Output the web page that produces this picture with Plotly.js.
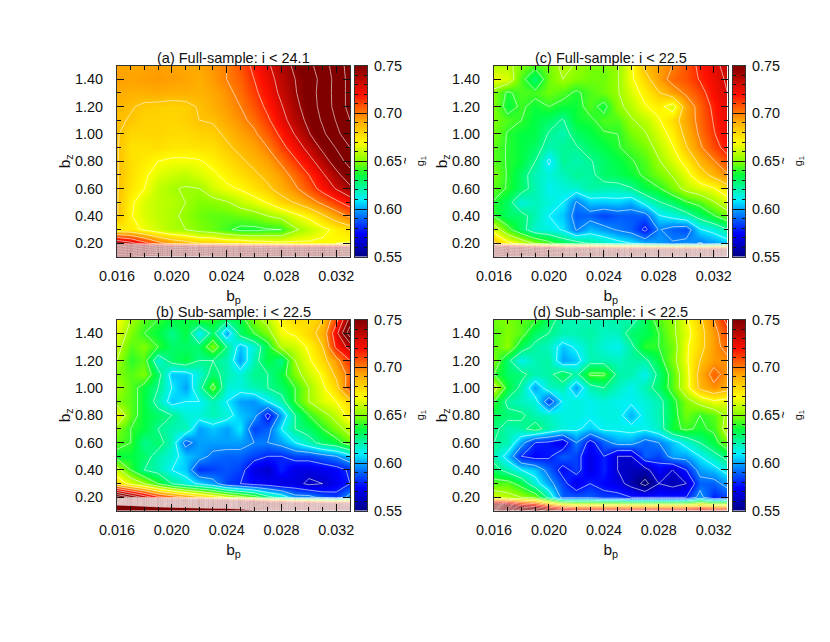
<!DOCTYPE html>
<html>
<head>
<meta charset="utf-8">
<script src="https://cdn.plot.ly/plotly-3.0.1.min.js"></script>
<style>body{margin:0;background:#fff}</style>
</head>
<body>
<div id="grafico" style="width:830px;height:642px"></div>
<script>
var bp = [0.016,0.017,0.018,0.019,0.020,0.021,0.022,0.023,0.024,0.025,0.026,0.027,0.028,0.029,0.030,0.031,0.032,0.033];
// rows are written from the top of the panel (1.5) down to the bottom (0.1)
var bz = [1.5,1.4,1.3,1.2,1.1,1.0,0.9,0.8,0.7,0.6,0.5,0.4,0.3,0.2,0.1];
var nivelBarra = [0.55,0.56,0.57,0.58,0.59,0.60,0.61,0.62,0.63,0.64,0.65,0.66,0.67,0.68,0.69,0.70,0.71,0.72,0.73,0.74,0.75];

var painelA = [
[.693,.692,.693,.694,.693,.692,.692,.696,.700,.708,.718,.728,.738,.748,.756,.768,.782,.796],
[.694,.693,.694,.695,.694,.693,.690,.695,.700,.705,.715,.725,.735,.745,.752,.765,.780,.795],
[.691,.690,.690,.691,.690,.690,.689,.692,.697,.703,.712,.722,.733,.744,.753,.766,.780,.795],
[.688,.686,.683,.682,.681,.682,.686,.690,.695,.700,.708,.718,.729,.741,.752,.765,.780,.795],
[.687,.684,.681,.681,.680,.682,.685,.686,.692,.697,.703,.713,.725,.737,.749,.762,.776,.790],
[.686,.680,.680,.680,.679,.679,.681,.682,.687,.693,.698,.707,.718,.731,.744,.757,.771,.785],
[.686,.677,.677,.678,.676,.676,.677,.678,.683,.688,.693,.700,.711,.722,.735,.748,.761,.775],
[.686,.678,.675,.670,.668,.668,.669,.673,.678,.683,.688,.694,.702,.713,.725,.738,.752,.766],
[.686,.678,.672,.665,.662,.660,.664,.668,.673,.678,.683,.688,.695,.704,.715,.728,.741,.754],
[.686,.676,.670,.660,.656,.654,.655,.663,.668,.671,.677,.683,.690,.698,.708,.720,.731,.742],
[.686,.672,.664,.660,.658,.655,.650,.651,.654,.660,.665,.671,.680,.686,.694,.703,.712,.722],
[.686,.671,.664,.660,.657,.653,.648,.646,.646,.648,.650,.655,.659,.667,.673,.683,.693,.702],
[.674,.674,.668,.662,.657,.655,.650,.647,.642,.637,.637,.639,.640,.653,.660,.667,.673,.678],
[.745,.735,.720,.705,.695,.690,.685,.685,.680,.680,.677,.675,.673,.673,.672,.672,.670,.669],
[1.02,1.02,1.01,1.01,1.01,1.01,1.01,1.00,1.00,1.00,1.00,1.00,.995,.995,.995,.995,.995,.995]
];
var painelC = [
[.658,.658,.650,.644,.648,.658,.654,.649,.648,.654,.668,.688,.694,.700,.708,.718,.726,.735],
[.668,.664,.644,.628,.648,.655,.650,.648,.648,.654,.668,.680,.694,.704,.708,.716,.724,.732],
[.650,.638,.644,.643,.648,.644,.638,.644,.648,.654,.664,.674,.684,.694,.702,.710,.722,.730],
[.650,.635,.642,.636,.640,.636,.636,.644,.636,.652,.659,.669,.674,.664,.692,.705,.718,.728],
[.649,.644,.640,.634,.630,.624,.636,.638,.644,.644,.654,.659,.669,.679,.692,.704,.716,.727],
[.649,.639,.635,.634,.624,.620,.630,.634,.639,.640,.649,.654,.664,.674,.689,.702,.714,.725],
[.645,.639,.635,.630,.620,.624,.624,.630,.634,.639,.644,.649,.659,.669,.684,.698,.710,.720],
[.645,.639,.635,.625,.608,.624,.620,.624,.630,.634,.639,.644,.654,.664,.674,.689,.699,.710],
[.649,.639,.630,.619,.615,.619,.624,.622,.630,.632,.636,.642,.649,.656,.666,.679,.689,.699],
[.645,.639,.630,.620,.612,.615,.616,.622,.620,.620,.624,.634,.639,.649,.659,.664,.669,.679],
[.639,.630,.614,.619,.615,.610,.594,.605,.605,.606,.602,.614,.624,.630,.639,.644,.654,.664],
[.639,.630,.629,.620,.610,.605,.590,.590,.585,.589,.589,.590,.609,.614,.620,.630,.639,.649],
[.664,.644,.630,.616,.614,.609,.594,.604,.599,.594,.590,.577,.596,.590,.587,.609,.614,.624],
[.688,.674,.664,.654,.644,.634,.630,.624,.620,.614,.610,.604,.600,.596,.599,.594,.599,.604],
[1.02,1.01,1.01,1.00,1.00,1.00,1.00,1.00,1.00,1.00,1.00,1.00,1.00,1.00,1.00,1.00,1.00,1.00]
];
var painelB = [
[.670,.655,.645,.640,.635,.635,.640,.640,.630,.635,.650,.660,.672,.680,.678,.685,.710,.750],
[.665,.650,.640,.635,.625,.635,.610,.630,.600,.630,.640,.650,.668,.672,.680,.690,.725,.770],
[.660,.645,.650,.640,.630,.630,.630,.650,.625,.605,.615,.635,.658,.662,.672,.685,.718,.735],
[.655,.640,.645,.615,.630,.635,.625,.625,.620,.600,.620,.635,.625,.655,.668,.680,.695,.715],
[.650,.645,.650,.630,.605,.605,.615,.630,.620,.615,.625,.625,.635,.650,.662,.672,.688,.705],
[.655,.645,.635,.625,.610,.600,.620,.645,.615,.615,.620,.625,.630,.640,.655,.668,.680,.710],
[.650,.645,.635,.620,.605,.610,.610,.620,.610,.600,.598,.610,.620,.640,.655,.665,.670,.680],
[.670,.645,.635,.630,.625,.615,.615,.620,.615,.605,.600,.575,.600,.625,.640,.650,.660,.675],
[.650,.640,.635,.625,.620,.620,.600,.605,.600,.610,.585,.590,.610,.625,.630,.640,.650,.660],
[.645,.640,.625,.630,.618,.590,.600,.600,.600,.600,.595,.595,.600,.610,.620,.630,.635,.648],
[.635,.635,.630,.620,.615,.605,.600,.592,.590,.590,.585,.580,.580,.585,.585,.590,.595,.605],
[.660,.640,.625,.620,.610,.605,.582,.585,.588,.585,.570,.565,.580,.570,.570,.572,.575,.582],
[.680,.665,.655,.640,.625,.615,.608,.600,.585,.580,.575,.573,.568,.570,.562,.565,.572,.580],
[.780,.760,.740,.720,.710,.700,.690,.680,.670,.660,.650,.630,.620,.600,.600,.590,.585,.600],
[1.17,1.16,1.14,1.12,1.11,1.10,1.09,1.08,1.08,1.06,1.02,1.01,1.01,1.01,1.00,.995,.99,.99]
];
var painelD = [
[.648,.650,.645,.642,.630,.620,.620,.620,.620,.622,.620,.632,.645,.652,.668,.682,.700,.720],
[.645,.650,.645,.630,.625,.620,.620,.622,.618,.618,.630,.632,.640,.652,.665,.680,.695,.710],
[.645,.652,.632,.622,.618,.605,.612,.620,.615,.612,.622,.640,.640,.648,.668,.680,.695,.705],
[.650,.628,.612,.620,.622,.600,.605,.620,.620,.618,.622,.622,.635,.650,.668,.685,.695,.697],
[.640,.630,.628,.620,.622,.632,.622,.642,.642,.622,.620,.612,.628,.645,.665,.690,.705,.695],
[.662,.635,.622,.600,.618,.620,.600,.620,.625,.618,.612,.620,.630,.645,.665,.688,.697,.690],
[.640,.622,.618,.615,.585,.612,.615,.612,.615,.612,.612,.615,.620,.636,.650,.660,.668,.665],
[.632,.628,.627,.620,.618,.614,.614,.612,.614,.614,.602,.614,.620,.635,.648,.640,.645,.658],
[.628,.620,.622,.630,.620,.614,.612,.606,.612,.612,.614,.612,.618,.637,.642,.638,.642,.662],
[.625,.620,.600,.580,.578,.570,.595,.575,.590,.600,.600,.590,.595,.605,.615,.625,.635,.650],
[.620,.605,.580,.575,.578,.590,.585,.570,.580,.565,.565,.590,.585,.600,.600,.610,.620,.630],
[.630,.620,.610,.605,.590,.575,.585,.570,.580,.565,.562,.560,.575,.565,.580,.600,.605,.615],
[.645,.645,.635,.615,.600,.585,.570,.580,.575,.570,.560,.545,.565,.560,.565,.590,.590,.600],
[.665,.660,.655,.650,.620,.590,.590,.590,.585,.585,.580,.580,.580,.580,.580,.600,.580,.585],
[.860,.840,.800,.790,.770,.760,.750,.750,.750,.750,.750,.750,.750,.750,.750,.750,.750,.750]
];

var titulos = ['(a) Full-sample: i < 24.1', '(c) Full-sample: i < 22.5', '(b) Sub-sample: i < 22.5', '(d) Sub-sample: i < 22.5'];
var paineis = [painelA, painelC, painelB, painelD];

var escala = [
    [0, '#00007f'], [0.125, '#0000ff'], [0.25, '#00a0ff'], [0.3, '#00f0ff'],
    [0.425, '#00ff40'], [0.5, '#80ff00'], [0.6, '#ffff00'], [0.72, '#ffa000'],
    [0.85, '#ff1000'], [1, '#800000']
];

const W = 830, H = 642;
const fonte = {family: 'Liberation Sans', size: 14.4, color: '#111'};
const fonteTitulo = {family: 'Liberation Sans', size: 15.5, color: '#111'};
// pixel boxes of the panels, in the order of paineis
const caixas = [
    {l: 117, r: 350, t: 65.5, b: 257, bl: 355, br: 367},
    {l: 494, r: 727.5, t: 65.5, b: 257, bl: 733, br: 745},
    {l: 117, r: 350, t: 319.5, b: 511, bl: 355, br: 367},
    {l: 494, r: 727.5, t: 319.5, b: 511, bl: 733, br: 745}
];

let dados = [];
let layout = {
    width: W, height: H, margin: {l: 0, r: 0, t: 0, b: 0},
    paper_bgcolor: '#fff', plot_bgcolor: '#fff', showlegend: false, annotations: []
};

const z = (linhas) => linhas.slice().reverse();
const yCres = bz.slice().reverse();

paineis.forEach(function (painel, i) {
    const c = caixas[i];
    const n1 = 2 * i + 1, n2 = 2 * i + 2;
    const sx = n1 === 1 ? '' : n1, sb = n2;

    dados.push({
        type: 'heatmap', x: bp, y: yCres, z: z(painel), zmin: 0.55, zmax: 0.75,
        zsmooth: 'best', colorscale: escala, showscale: false,
        xaxis: 'x' + sx, yaxis: 'y' + sx
    });
    dados.push({
        type: 'contour', x: bp, y: yCres, z: z(painel), autocontour: false,
        contours: {coloring: 'none', start: 0.40, end: 1.0, size: 0.015},
        line: {color: '#fff', width: 0.6, smoothing: 0}, showscale: false,
        xaxis: 'x' + sx, yaxis: 'y' + sx
    });
    dados.push({
        type: 'heatmap', x: [0, 1], y: nivelBarra, z: nivelBarra.map(v => [v, v]),
        zmin: 0.55, zmax: 0.75, zsmooth: 'best', colorscale: escala, showscale: false,
        xaxis: 'x' + sb, yaxis: 'y' + sb
    });

    layout['xaxis' + sx] = {
        domain: [c.l / W, c.r / W], anchor: 'y' + sx, range: [0.016, 0.033],
        tick0: 0.016, dtick: 0.004, tickformat: '.3f', ticks: 'inside', ticklen: 7,
        minor: {dtick: 0.001, ticks: 'inside', ticklen: 4, tickcolor: '#111'},
        tickcolor: '#111', showgrid: false, zeroline: false, showline: true, mirror: 'allticks',
        linecolor: '#333', linewidth: 1, tickfont: fonte, ticklabelstandoff: 6,
        title: {text: 'b<sub>p</sub>', font: fonteTitulo, standoff: 6}
    };
    layout['yaxis' + sx] = {
        domain: [1 - c.b / H, 1 - c.t / H], anchor: 'x' + sx, range: [0.1, 1.5],
        tick0: 0.2, dtick: 0.2, tickformat: '.2f', ticks: 'inside', ticklen: 7,
        minor: {dtick: 0.1, ticks: 'inside', ticklen: 4, tickcolor: '#111'},
        tickcolor: '#111', showgrid: false, zeroline: false, showline: true, mirror: 'allticks',
        linecolor: '#333', linewidth: 1, tickfont: fonte, ticklabelstandoff: 10,
        title: {text: 'b<sub>z</sub>', font: fonteTitulo, standoff: 0}
    };
    layout['xaxis' + sb] = {
        domain: [c.bl / W, c.br / W], anchor: 'y' + sb, range: [0, 1],
        showticklabels: false, ticks: '', showgrid: false, zeroline: false,
        showline: true, mirror: true, linecolor: '#333', linewidth: 1
    };
    layout['yaxis' + sb] = {
        domain: [1 - c.b / H, 1 - c.t / H], anchor: 'x' + sb, side: 'right', range: [0.55, 0.75],
        tick0: 0.55, dtick: 0.05, tickformat: '.2f', ticks: 'inside', ticklen: 12,
        minor: {dtick: 0.01, ticks: 'inside', ticklen: 3, tickcolor: '#111'},
        tickcolor: '#111', showgrid: false, zeroline: false, showline: true, mirror: 'allticks',
        linecolor: '#333', linewidth: 1, tickfont: fonte, ticklabelstandoff: 3
    };

    layout.annotations.push({
        text: titulos[i], xref: 'paper', yref: 'paper', x: (c.l + c.r) / 2 / W, y: 1 - (c.t - 7.5) / H,
        xanchor: 'center', yanchor: 'middle', showarrow: false,
        font: {family: 'Liberation Sans', size: 14.5, color: '#111'}
    });
    layout.annotations.push({
        text: '~', xref: 'paper', yref: 'paper', x: (c.br + 38) / W, y: 1 - (c.t + c.b) / 2 / H,
        xanchor: 'center', yanchor: 'middle', showarrow: false, textangle: -90,
        font: {family: 'Liberation Sans', size: 12, color: '#111'}
    });
    layout.annotations.push({
        text: 'g<sub>1</sub>', xref: 'paper', yref: 'paper', x: (c.br + 54) / W, y: 1 - (c.t + c.b) / 2 / H,
        xanchor: 'center', yanchor: 'middle', showarrow: false, textangle: -90,
        font: {family: 'Liberation Sans', size: 11, color: '#111'}
    });
});

Plotly.newPlot('grafico', dados, layout, {displayModeBar: false, staticPlot: true});
</script>
</body>
</html>
